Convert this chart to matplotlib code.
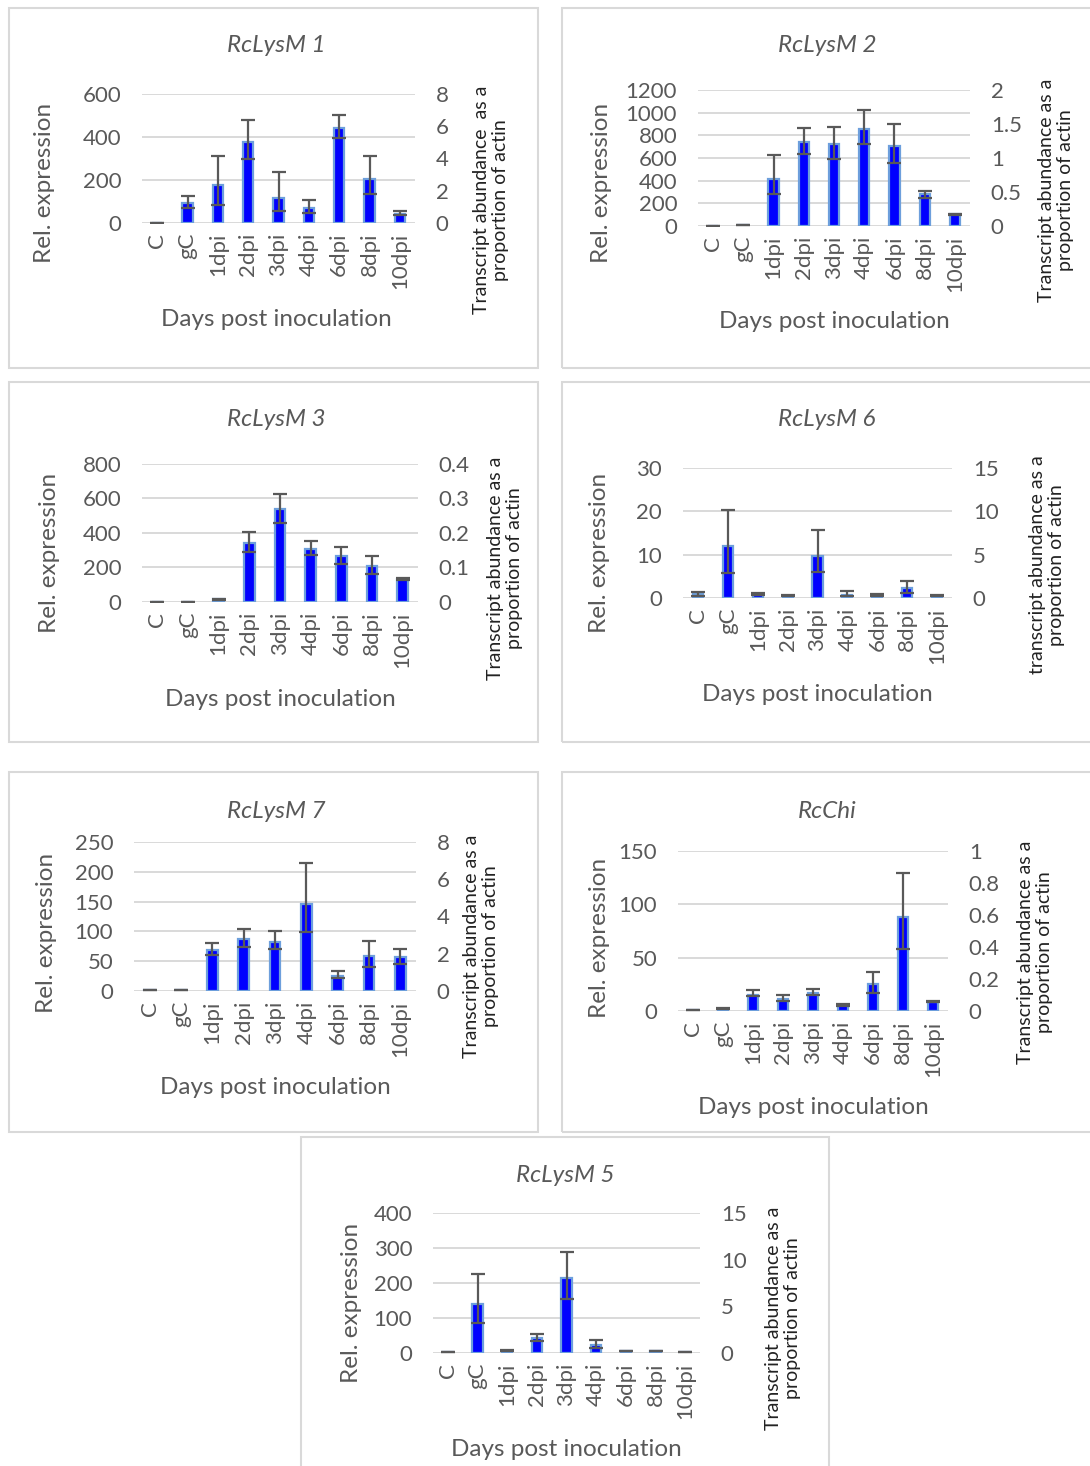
import matplotlib
matplotlib.use("Agg")
import matplotlib.pyplot as plt
from matplotlib.patches import Rectangle

plt.rcParams['font.family'] = ['Lato', 'DejaVu Sans']

# sampling points shared by every gene
categories = ['C', 'gC', '1dpi', '2dpi', '3dpi', '4dpi', '6dpi', '8dpi', '10dpi']

# RcLysM 1
lysm1_mean = [2, 93, 178, 378, 114, 72, 443, 204, 43]
lysm1_upper = [2, 126, 311, 479, 239, 107, 502, 311, 57]
lysm1_lower = [2, 68, 85, 298, 54, 46, 394, 133, 38]

# RcLysM 2
lysm2_mean = [2, 8, 419, 743, 723, 858, 708, 278, 103]
lysm2_upper = [2, 8, 626, 867, 876, 1021, 897, 313, 110]
lysm2_lower = [2, 8, 283, 637, 590, 723, 558, 248, 98]

# RcLysM 3
lysm3_mean = [2, 2, 17, 341, 538, 310, 264, 206, 135]
lysm3_upper = [2, 2, 20, 407, 628, 351, 320, 264, 138]
lysm3_lower = [2, 2, 12, 287, 457, 274, 220, 162, 130]

# RcLysM 6
lysm6_mean = [0.9, 12.1, 0.9, 0.5, 9.7, 0.8, 0.7, 2.3, 0.5]
lysm6_upper = [1.4, 20.2, 1.1, 0.6, 15.6, 1.6, 0.9, 3.9, 0.6]
lysm6_lower = [0.5, 5.7, 0.7, 0.4, 6.0, 0.5, 0.5, 1.2, 0.4]

# RcLysM 7
lysm7_mean = [1.5, 1, 69, 87, 82, 146, 26, 58, 57]
lysm7_upper = [1.5, 1, 81, 104, 100, 215, 34, 84, 71]
lysm7_lower = [1.5, 1, 60, 74, 71, 99, 21, 41, 46]

# RcChi
chi_mean = [1, 2.2, 15.3, 11, 16.5, 5.6, 25, 88, 8.7]
chi_upper = [1.2, 2.6, 20, 14.6, 20.3, 6.2, 36.8, 129, 9.3]
chi_lower = [0.8, 1.8, 13.7, 9.4, 14.6, 5.0, 16.9, 57.8, 8.0]

# RcLysM 5
lysm5_mean = [2, 140, 7, 44, 213, 22, 6, 6, 2]
lysm5_upper = [2, 227, 8, 55, 290, 38, 7, 7, 2]
lysm5_lower = [2, 86, 5, 33, 155, 14, 5, 5, 2]

ratio_label = 'Transcript abundance as a\nproportion of actin'

# one entry per chart: data, left/right scales, and pixel layout
panels = [
    dict(title='RcLysM 1', mean=lysm1_mean, upper=lysm1_upper, lower=lysm1_lower,
         yticks=[0, 200, 400, 600], rticks=[0, 2, 4, 6, 8],
         rlabel='Transcript abundance  as a\nproportion of actin',
         box=(9, 8, 538, 368), plot=(142, 94, 415, 223),
         title_xy=(276, 45), ylab_xy=(45, 183), rlab_xy=(491, 200), xlab_xy=(276, 320)),
    dict(title='RcLysM 2', mean=lysm2_mean, upper=lysm2_upper, lower=lysm2_lower,
         yticks=[0, 200, 400, 600, 800, 1000, 1200], rticks=[0, 0.5, 1, 1.5, 2],
         rlabel=ratio_label,
         box=(562, 8, 1095, 368), plot=(698, 90, 970, 226),
         title_xy=(827, 45), ylab_xy=(602, 183), rlab_xy=(1056, 190), xlab_xy=(834, 322)),
    dict(title='RcLysM 3', mean=lysm3_mean, upper=lysm3_upper, lower=lysm3_lower,
         yticks=[0, 200, 400, 600, 800], rticks=[0, 0.1, 0.2, 0.3, 0.4],
         rlabel=ratio_label,
         box=(9, 382, 538, 742), plot=(142, 464, 418, 602),
         title_xy=(276, 420), ylab_xy=(50, 553), rlab_xy=(505, 568), xlab_xy=(280, 699)),
    dict(title='RcLysM 6', mean=lysm6_mean, upper=lysm6_upper, lower=lysm6_lower,
         yticks=[0, 10, 20, 30], rticks=[0, 5, 10, 15],
         rlabel='transcript abundance as a\nproportion of actin',
         box=(562, 382, 1095, 742), plot=(683, 468, 952, 598),
         title_xy=(827, 420), ylab_xy=(600, 553), rlab_xy=(1047, 565), xlab_xy=(817, 694)),
    dict(title='RcLysM 7', mean=lysm7_mean, upper=lysm7_upper, lower=lysm7_lower,
         yticks=[0, 50, 100, 150, 200, 250], rticks=[0, 2, 4, 6, 8],
         rlabel=ratio_label,
         box=(9, 772, 538, 1132), plot=(134, 842, 416, 991),
         title_xy=(276, 811), ylab_xy=(47, 933), rlab_xy=(481, 946), xlab_xy=(275, 1087)),
    dict(title='RcChi', mean=chi_mean, upper=chi_upper, lower=chi_lower,
         yticks=[0, 50, 100, 150], rticks=[0, 0.2, 0.4, 0.6, 0.8, 1],
         rlabel=ratio_label,
         box=(562, 772, 1095, 1132), plot=(678, 851, 948, 1011),
         title_xy=(827, 811), ylab_xy=(600, 938), rlab_xy=(1035, 952), xlab_xy=(813, 1107)),
    dict(title='RcLysM 5', mean=lysm5_mean, upper=lysm5_upper, lower=lysm5_lower,
         yticks=[0, 100, 200, 300, 400], rticks=[0, 5, 10, 15],
         rlabel=ratio_label,
         box=(301, 1137, 829, 1475), plot=(433, 1213, 700, 1353),
         title_xy=(565, 1175), ylab_xy=(352, 1303), rlab_xy=(783, 1318), xlab_xy=(566, 1449)),
]

W, H = 1090, 1466
TXT = '#595959'
GRID = '#d9d9d9'

fig = plt.figure(figsize=(W / 100, H / 100), dpi=100)
fig.patch.set_facecolor('white')


def fx(px):
    return px / W


def fy(py):
    return 1 - py / H


def draw_panel(p):
    bx0, by0, bx1, by1 = p['box']
    fig.patches.append(Rectangle((fx(bx0), fy(by1)), fx(bx1 - bx0), (by1 - by0) / H,
                                 transform=fig.transFigure, fill=False,
                                 edgecolor=GRID, linewidth=1.5, zorder=0))

    x0, y0, x1, y1 = p['plot']
    ax = fig.add_axes([fx(x0), fy(y1), fx(x1 - x0), (y1 - y0) / H])
    xs = list(range(len(categories)))
    mean = p['mean']
    err_dn = [m - lo for m, lo in zip(mean, p['lower'])]
    err_up = [hi - m for m, hi in zip(mean, p['upper'])]

    ax.bar(xs, mean, width=0.34, color='#0000ff', edgecolor='#6d9fdc',
           linewidth=1.6, zorder=3)
    ax.errorbar(xs, mean, yerr=[err_dn, err_up], fmt='none', ecolor='#595959',
                elinewidth=1.6, capsize=5, capthick=1.6, zorder=4)

    ymax = p['yticks'][-1]
    ax.set_ylim(0, ymax)
    ax.set_xlim(-0.5, len(categories) - 0.5)
    ax.set_yticks(p['yticks'])
    ax.set_xticks(xs)
    ax.set_xticklabels(categories, rotation=90)
    ax.grid(axis='y', color=GRID, linewidth=1.4, zorder=0)
    ax.set_axisbelow(True)
    for s in ['top', 'right', 'left', 'bottom']:
        ax.spines[s].set_visible(False)
    ax.tick_params(axis='both', length=0, labelsize=16, colors=TXT)
    ax.tick_params(axis='y', pad=15)
    ax.tick_params(axis='x', pad=7)

    ax2 = ax.twinx()
    ax2.set_ylim(0, p['rticks'][-1])
    ax2.set_yticks(p['rticks'])
    ax2.set_yticklabels(['{:g}'.format(t) for t in p['rticks']])
    for s in ['top', 'right', 'left', 'bottom']:
        ax2.spines[s].set_visible(False)
    ax2.tick_params(axis='y', length=0, labelsize=16, colors=TXT, pad=15)

    fig.text(fx(p['title_xy'][0]), fy(p['title_xy'][1]), p['title'], ha='center',
             va='center', fontsize=17.5, style='italic', color=TXT)
    fig.text(fx(p['ylab_xy'][0]), fy(p['ylab_xy'][1]), 'Rel. expression', ha='center',
             va='center', rotation=90, fontsize=17.5, color=TXT)
    fig.text(fx(p['xlab_xy'][0]), fy(p['xlab_xy'][1]), 'Days post inoculation',
             ha='center', va='center', fontsize=17.5, color=TXT)
    fig.text(fx(p['rlab_xy'][0]), fy(p['rlab_xy'][1]), p['rlabel'], ha='center',
             va='center', rotation=90, fontsize=14, color='#222222',
             multialignment='center', linespacing=1.15)


for p in panels:
    draw_panel(p)

fig.savefig('out.png', dpi=100, facecolor='white')
